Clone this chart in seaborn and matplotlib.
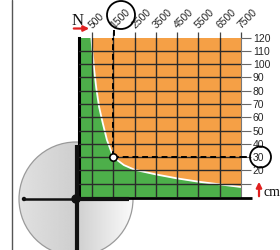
import numpy as np
import matplotlib
matplotlib.use("Agg")
import matplotlib.pyplot as plt
import seaborn as sns
import pandas as pd
from matplotlib.patches import Circle
from matplotlib.transforms import offset_copy

# ---- data ----
x_ticks = [500, 1500, 2500, 3500, 4500, 5500, 6500, 7500]
x_labels = ["500", "1500", "2500", "3500", "4500", "5500", "6500", "7500"]
y_ticks = [10, 20, 30, 40, 50, 60, 70, 80, 90, 100, 110, 120]
y_labels = ["", "20", "30", "40", "50", "60", "70", "80", "90", "100", "110", "120"]
curve_x = [-111, 470, 530, 600, 700, 830, 1000, 1200, 1500, 2000, 2500, 3500, 4500, 5500, 6500, 7500]
curve_y = [120, 120, 108, 96, 82, 68, 56, 43, 30, 24, 20.5, 17, 14, 11.5, 9.5, 7.5]
sel_x = 1500
sel_y = 30

sns.set_theme(style="white")
plt.rcParams['font.family'] = ['Liberation Sans', 'DejaVu Sans']

W, H = 280, 250
fig = plt.figure(figsize=(W / 100, H / 100), dpi=100)

# background overlay (pixel coords)
bg = fig.add_axes([0, 0, 1, 1], zorder=0)
bg.set_xlim(0, W); bg.set_ylim(H, 0); bg.axis("off")
bg.patch.set_alpha(0)

# disk with gradient
cx, cy, r = 76, 199, 57
cols = np.linspace(0, 1, 200)
vals = np.where(cols < 0.5, 0.88 - 0.14 * cols, 0.81 + 0.34 * (cols - 0.5))
img = np.tile(vals, (60, 1))
im = bg.imshow(img, cmap="gray", vmin=0, vmax=1, extent=(cx - r, cx + r, cy + r, cy - r),
               aspect="auto", interpolation="bilinear", zorder=1)
clip = Circle((cx, cy), r, transform=bg.transData)
im.set_clip_path(clip)
bg.add_patch(Circle((cx, cy), r, fill=False, ec="#9a9a9a", lw=0.9, zorder=2))
bg.plot([12, 12], [0, H], color="#555555", lw=1.0)

# main chart
left, right, top, bottom = 79, 241, 37.5, 197
ax = fig.add_axes([left / W, 1 - bottom / H, (right - left) / W, (bottom - top) / H], zorder=2)
ax.set_facecolor("#F5A046")
df = pd.DataFrame({"x": curve_x, "y": curve_y})
ax.fill_between(df["x"], 0, df["y"], color="#4DAF4A", lw=0, zorder=1)
sns.lineplot(data=df.iloc[1:], x="x", y="y", ax=ax, color="white", lw=1.3, zorder=2)
ax.set_xlim(-111, 7500)
ax.set_ylim(0, 120)
ax.set_xlabel(""); ax.set_ylabel("")

for v in x_ticks[:-1]:
    ax.axvline(v, color="#2a2a2a", lw=1.0, zorder=3)
for v in y_ticks[:-1]:
    ax.axhline(v, color="#2a2a2a", lw=1.0, zorder=3)

ax.xaxis.tick_top()
ax.set_xticks(x_ticks)
ax.set_xticklabels(x_labels, rotation=45, ha="left", va="bottom", rotation_mode="anchor", fontsize=7.5)
ax.tick_params(axis="x", direction="out", length=4, width=0.9, color="#444444", pad=1.5, top=True, bottom=False)
for lbl in ax.get_xticklabels():
    lbl.set_transform(offset_copy(lbl.get_transform(), fig=fig, x=2, y=-1, units="dots"))
ax.yaxis.tick_right()
ax.set_yticks(y_ticks)
ax.set_yticklabels(y_labels, fontsize=7.5)
ax.tick_params(axis="y", direction="out", length=7, width=0.8, color="#666666", pad=1.5, right=True, left=False)

ax.spines["top"].set_visible(False)
ax.spines["right"].set_color("#777777"); ax.spines["right"].set_linewidth(0.8)
ax.spines["left"].set_color("black"); ax.spines["left"].set_linewidth(2.2)
ax.spines["bottom"].set_visible(False)

# selected point with dashed guides
ax.plot([sel_x, sel_x], [sel_y, 120], color="black", lw=1.4, ls=(0, (3, 2)), zorder=4, clip_on=False)
ax.plot([sel_x, 7500], [sel_y, sel_y], color="black", lw=1.4, ls=(0, (3, 2)), zorder=4, clip_on=False)
ax.scatter([sel_x], [sel_y], s=28, facecolor="white", edgecolor="black", lw=1.2, zorder=6)

# foreground overlay
fg = fig.add_axes([0, 0, 1, 1], zorder=3)
fg.set_xlim(0, W); fg.set_ylim(H, 0); fg.axis("off")
fg.patch.set_alpha(0)

fg.plot([114, 114], [30, 38], color="black", lw=1.4, ls=(0, (3, 2)))
fg.plot([241, 249], [157, 157], color="black", lw=1.4, ls=(0, (3, 2)))
fg.add_patch(Circle((121, 15), 14, fill=False, ec="black", lw=1.3))
fg.add_patch(Circle((260.5, 157), 10.5, fill=False, ec="black", lw=1.3))

# bottom axis line and crosshair
fg.plot([78, 252], [197.5, 197.5], color="black", lw=2.0, solid_capstyle="butt")
fg.plot([24, 76], [199, 199], color="#111111", lw=1.8)
fg.plot([76, 129], [199, 199], color="#111111", lw=3.0, solid_capstyle="butt")
fg.plot([77, 77], [145, 250], color="#111111", lw=3.0, solid_capstyle="butt")
fg.add_patch(Circle((76, 199), 4, color="#111111"))
fg.add_patch(Circle((24, 199), 1.5, color="#111111"))

# N label and red arrows
fg.text(72, 25, "N", fontsize=12, family=["Liberation Serif", "DejaVu Serif"], va="baseline", ha="left", color="#111111")
fg.annotate("", xy=(92, 28.5), xytext=(71, 28.5),
            arrowprops=dict(arrowstyle="-|>", color="#e0201f", lw=1.6, mutation_scale=8))
fg.annotate("", xy=(259, 179), xytext=(259, 199),
            arrowprops=dict(arrowstyle="-|>", color="#e0201f", lw=1.6, mutation_scale=8))
fg.text(263, 196, "cm", fontsize=10, family=["Liberation Serif", "DejaVu Serif"], va="baseline", ha="left", color="#111111")

fig.savefig("out.png", dpi=100)
